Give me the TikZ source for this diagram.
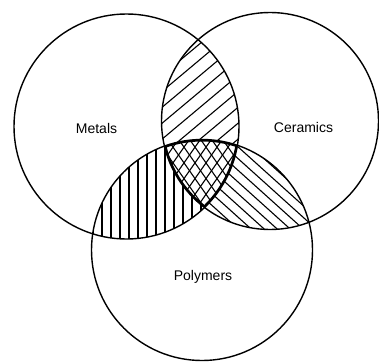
\documentclass[tikz,border=0pt]{standalone}
\usepackage{fontspec}
\setmainfont{Liberation Sans}
\begin{document}
\begin{tikzpicture}[x=1pt,y=-1pt,
  ring/.style={draw=black,line width=1.4pt},
  hatch/.style={draw=black,line width=1.1pt},
  lbl/.style={font=\fontsize{14}{16}\selectfont,inner sep=0pt}]
\useasboundingbox (0,0) rectangle (379,361);
\fill[white] (0,0) rectangle (379,361);
\def\metals{(126.5,126.5) circle[radius=112.5]}
\def\ceramics{(270,121) circle[radius=108.5]}
\def\polymers{(202,250) circle[radius=110.5]}
% Metals & Ceramics: NE lines
\begin{scope}
  \clip \metals; \clip \ceramics;
  \foreach \k in {100,119,...,520} \draw[hatch] (\k,0) -- ++(-477,400);
\end{scope}
% Metals & Polymers: vertical lines
\begin{scope}
  \clip \metals; \clip \polymers;
  \fill[white] (0,0) rectangle (379,361);
  \foreach \x in {84,93,...,240} \draw[hatch] (\x,0) -- (\x,361);
\end{scope}
% Ceramics & Polymers: NW lines
\begin{scope}
  \clip \ceramics; \clip \polymers;
  \fill[white] (0,0) rectangle (379,361);
  \foreach \k in {-250,-237,...,380} \draw[hatch] (\k,0) -- ++(444,400);
\end{scope}
% All three: crosshatch
\begin{scope}
  \clip \metals; \clip \ceramics; \clip \polymers;
  \fill[white] (0,0) rectangle (379,361);
  \foreach \k in {100,111,...,520} \draw[hatch] (\k,0) -- ++(-280,400);
  \foreach \k in {-150,-139,...,300} \draw[hatch] (\k,0) -- ++(280,400);
  \draw[line width=4pt] \metals; \draw[line width=4pt] \ceramics; \draw[line width=4pt] \polymers;
\end{scope}
\path[ring] \metals;
\path[ring] \ceramics;
\path[ring] \polymers;
\node[lbl] (m) at (96.5,128.5) {Metals};
\node[lbl] (c) at (303.5,127) {Ceramics};
\node[lbl] (p) at (203,277) {Polymers};
\end{tikzpicture}
\end{document}
